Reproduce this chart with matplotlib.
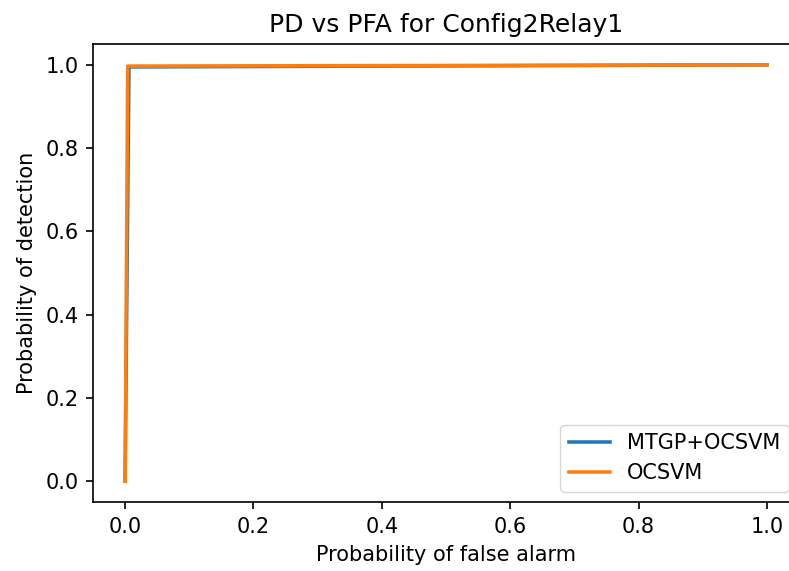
import matplotlib
matplotlib.use("Agg")
import matplotlib.pyplot as plt

# ROC points
pfa_mtgp = [0.0, 0.006, 1.0]
pd_mtgp = [0.0, 0.995, 1.0]
pfa_ocsvm = [0.0, 0.004, 1.0]
pd_ocsvm = [0.0, 0.997, 1.0]

# the reference looks like a default figure scaled by ~1.5
s = 1.5
plt.rcParams.update({
    'font.size': 10 * s,
    'axes.linewidth': 0.8 * s,
    'xtick.major.size': 3.5 * s,
    'ytick.major.size': 3.5 * s,
    'xtick.major.width': 0.8 * s,
    'ytick.major.width': 0.8 * s,
    'xtick.major.pad': 3.5 * s,
    'ytick.major.pad': 3.5 * s,
})

fig = plt.figure(figsize=(7.89, 5.71), dpi=100)
# axes runs past the right edge (reference image is cropped there)
ax = fig.add_axes([0.1179, 0.1208, 0.8948, 0.8021])
ax.spines['right'].set_visible(False)

ax.plot(pfa_mtgp, pd_mtgp, color='#1f77b4', lw=1.7 * s, label='MTGP+OCSVM')
ax.plot(pfa_ocsvm, pd_ocsvm, color='#ff7f0e', lw=1.7 * s, label='OCSVM')

ax.set_title('PD vs PFA for Config2Relay1', fontsize=12 * s, pad=6 * s)
ax.set_xlabel('Probability of false alarm', labelpad=4 * s)
ax.set_ylabel('Probability of detection', labelpad=4 * s)
ax.legend(loc='lower right')

plt.savefig('out.png')
